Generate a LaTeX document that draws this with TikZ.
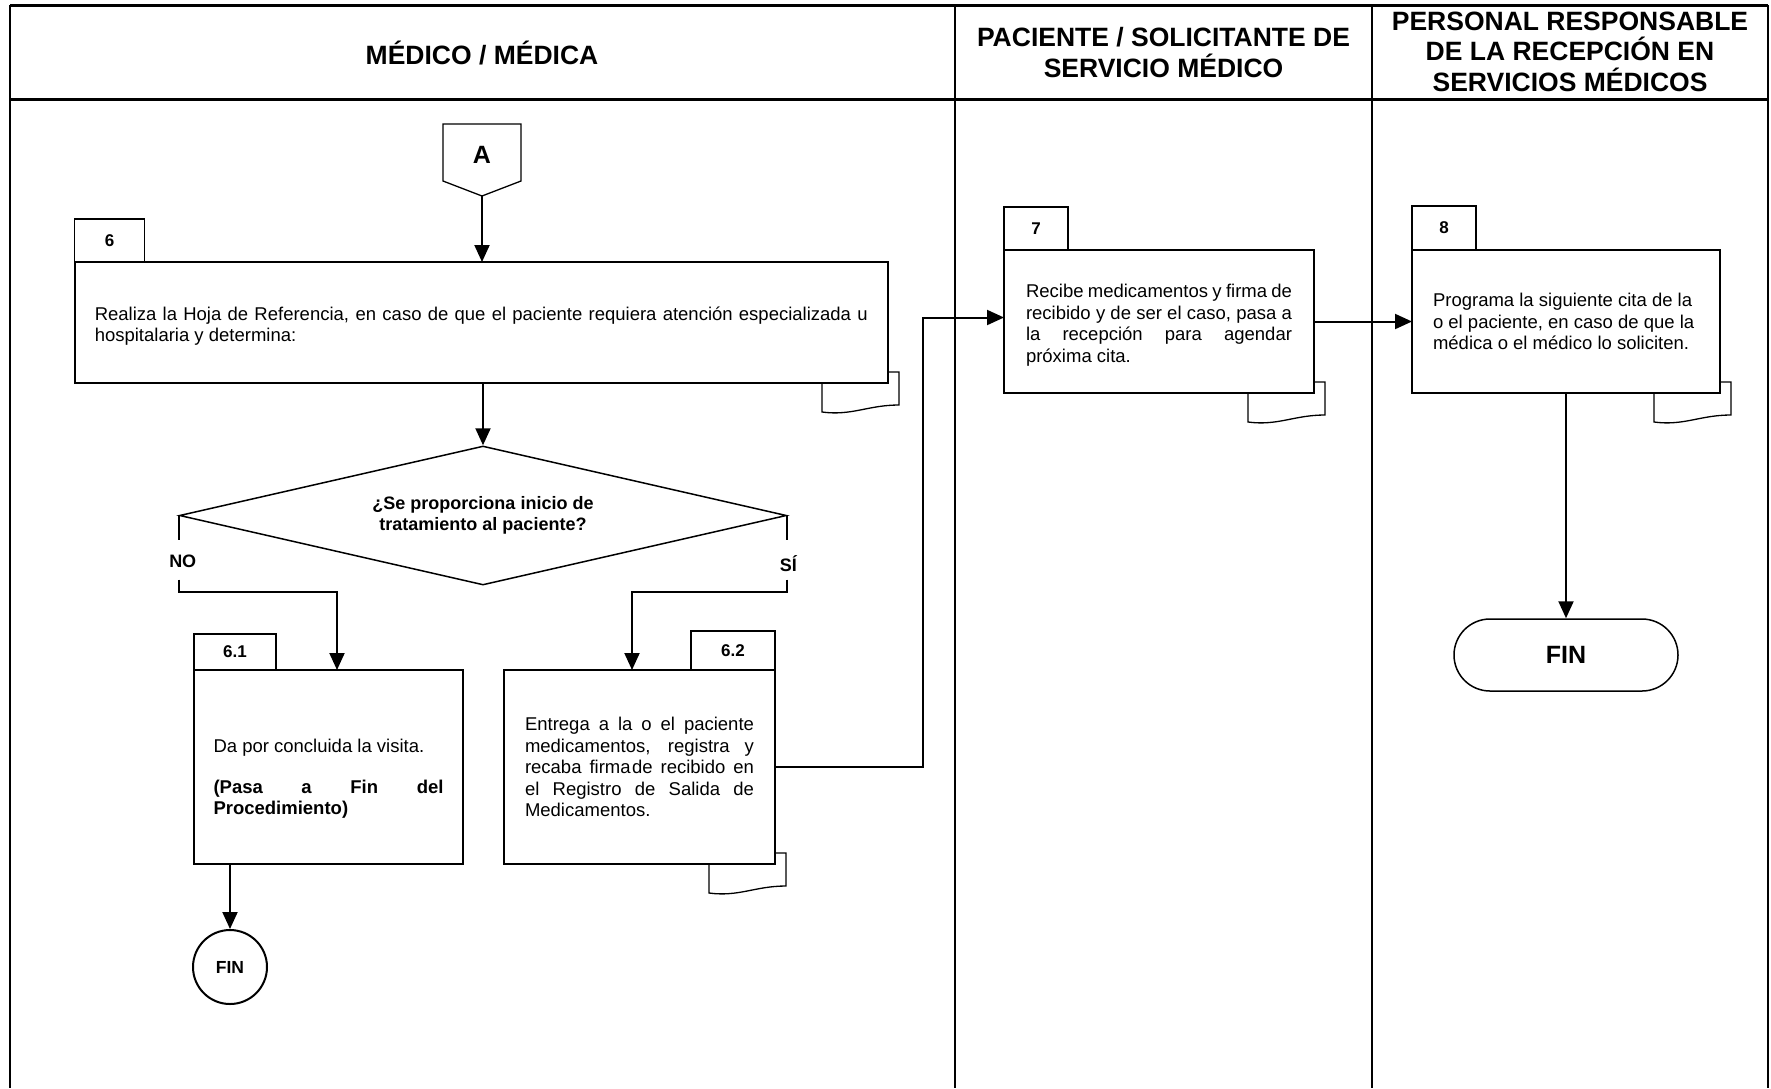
\documentclass[tikz,border=0pt]{standalone}
\usepackage{fontspec}
\setmainfont{Liberation Sans}
\usetikzlibrary{arrows.meta,shapes.geometric,calc}
\pgfdeclarelayer{background}
\pgfsetlayers{background,main}

\newcommand\bodyfont{\fontsize{18.5}{21.5}\selectfont}
\newcommand\headfont{\fontsize{26.5}{30.5}\selectfont\bfseries}
\newcommand\numfont{\fontsize{17}{20}\selectfont\bfseries}
\newcommand\lblfont{\fontsize{18}{21}\selectfont\bfseries}
% step text: a fixed-width paragraph; full lines are spread with \makebox[..][s]
\newcommand\steptext[2]{\parbox{#1}{\raggedright\bodyfont #2}}

% document symbol (wavy sheet) behind the lower right corner of a step box
\newcommand\docpage[1]{%
  \draw[docline] ($(#1.south east)+(-66,-11)$) -- ($(#1.south east)+(11,-11)$)
    -- ($(#1.south east)+(11,22)$)
    .. controls ($(#1.south east)+(-20,22)$) and ($(#1.south east)+(-36,33)$)
    .. ($(#1.south east)+(-66,29)$) -- cycle;}

\begin{document}
\begin{tikzpicture}[x=1pt,y=-1pt,
  stepbox/.style={draw, line width=2pt, fill=white, anchor=north west,
    inner sep=0pt, outer sep=0pt},
  tabbox/.style={draw, line width=1.3pt, fill=white, inner sep=0pt,
    outer sep=0pt, font=\numfont},
  flow/.style={line width=2pt},
  arrow/.style={flow, -{Triangle[length=17pt,width=15pt]}},
  docline/.style={line width=1.3pt, fill=white},
  lbl/.style={font=\lblfont, inner sep=1pt},
]
\useasboundingbox (0,0) rectangle (1771,1088);

% swimlane frame
\draw[line width=3pt] (10,5) -- (1768,5);
\draw[line width=3pt] (10,99) -- (1768,99);
\foreach \lx in {10,955,1372,1768}
  \draw[line width=2pt] (\lx,5) -- (\lx,1088);

\node[font=\headfont] (h1) at (482,53) {MÉDICO / MÉDICA};
\node[font=\headfont, align=center] (h2) at (1163.5,52.5)
  {PACIENTE / SOLICITANTE DE\\SERVICIO MÉDICO};
\node[font=\headfont, align=center] (h3) at (1570,51.5)
  {PERSONAL RESPONSABLE\\DE LA RECEPCIÓN EN\\SERVICIOS MÉDICOS};

% off-page connector A
\node[font=\fontsize{25}{30}\selectfont\bfseries, inner sep=0pt] (A) at (482,155) {A};
\draw[line width=1.3pt] ($(A)+(-39,-31)$) -- ($(A)+(39,-31)$) -- ($(A)+(39,26)$)
  -- ($(A)+(0,41)$) coordinate (Atip) -- ($(A)+(-39,26)$) -- cycle;

% step 6
\node[stepbox, minimum width=813.5pt, minimum height=121pt] (s6) at (74.5,262)
  {\steptext{773pt}{\rule{0pt}{21pt}\makebox[773pt][s]{Realiza la Hoja de Referencia, en caso de que el paciente requiera atención especializada u}\\
   hospitalaria y determina:}};
\node[tabbox, anchor=south west, minimum width=70pt, minimum height=43pt]
  (t6) at (s6.north west) {6};

% decision
\node[draw, diamond, line width=1.5pt, minimum width=607pt, minimum height=139pt,
  inner sep=0pt, shape aspect=4.4, align=center,
  font=\fontsize{18}{21}\selectfont\bfseries] (dec) at (483,515.5)
  {¿Se proporciona inicio de\\tratamiento al paciente?};

% step 6.1
\node[stepbox, minimum width=269pt, minimum height=194pt] (s61) at (194,670)
  {\steptext{230pt}{\rule{0pt}{37pt}Da por concluida la visita.\\[19.5pt]
   \textbf{\makebox[230pt][s]{(Pasa a Fin del}}\\
   \textbf{Procedimiento)}}};
\node[tabbox, anchor=south west, minimum width=82pt, minimum height=36pt]
  (t61) at (s61.north west) {6.1};

% step 6.2
\node[stepbox, minimum width=271pt, minimum height=194pt] (s62) at (504,670)
  {\steptext{229pt}{\makebox[229pt][s]{Entrega a la o el paciente}\\
   \makebox[229pt][s]{medicamentos, registra y}\\
   \makebox[229pt][s]{recaba firma\kern1.5pt de recibido en}\\
   \makebox[229pt][s]{el Registro de Salida de}\\
   Medicamentos.}};
\node[tabbox, anchor=south east, minimum width=84pt, minimum height=39pt]
  (t62) at (s62.north east) {6.2};

% step 7
\node[stepbox, minimum width=310pt, minimum height=143pt] (s7) at (1004,250)
  {\steptext{266pt}{\rule{0pt}{21pt}\makebox[266pt][s]{Recibe medicamentos y firma de}\\
   \makebox[266pt][s]{recibido y de ser el caso, pasa a}\\
   \makebox[266pt][s]{la recepción para agendar}\\
   próxima cita.}};
\node[tabbox, anchor=south west, minimum width=64pt, minimum height=43pt]
  (t7) at (s7.north west) {7};

% step 8
\node[stepbox, minimum width=308pt, minimum height=143pt] (s8) at (1412,250)
  {\steptext{266pt}{Programa la siguiente cita de la\\
   o el paciente, en caso de que la\\
   médica o el médico lo soliciten.}};
\node[tabbox, anchor=south west, minimum width=64pt, minimum height=44pt]
  (t8) at (s8.north west) {8};

% terminators
\node[draw, circle, line width=2pt, minimum size=74pt, inner sep=0pt,
  font=\fontsize{17.5}{20}\selectfont\bfseries] (fin1) at (230,967) {FIN};
\node[draw, rounded corners=36pt, line width=1.5pt, minimum width=224pt,
  minimum height=72pt, font=\fontsize{25}{30}\selectfont\bfseries] (fin2)
  at (1566,655) {FIN};

% document sheets under the steps
\begin{pgfonlayer}{background}
  \docpage{s6}
  \docpage{s62}
  \docpage{s7}
  \docpage{s8}
\end{pgfonlayer}

% flow
\draw[arrow] (Atip) -- (Atip |- s6.north);
\draw[arrow] (s6.south -| dec.north) -- (dec.north);

\draw[flow] (dec.west) -- ++(0,24);
\node[lbl] (no) at ($(dec.west)+(4,46)$) {NO};
\draw[arrow] ($(dec.west)+(0,64)$) -- ++(0,12) -| ($(s61.north west)+(143,0)$);

\draw[flow] (dec.east) -- ++(0,24);
\node[lbl] (si) at ($(dec.east)+(1,48)$) {SÍ};
\draw[arrow] ($(dec.east)+(0,64)$) -- ++(0,12) -| ($(s62.north west)+(128,0)$);

\draw[arrow] (fin1.north |- s61.south) -- (fin1.north);
\draw[arrow] (s62.east) -- ++(148,0) |- ($(s7.west)+(0,-4)$);
\draw[arrow] (s7.east) -- (s8.west);
\draw[arrow] (s8.south) -- (fin2.north);
\end{tikzpicture}
\end{document}
